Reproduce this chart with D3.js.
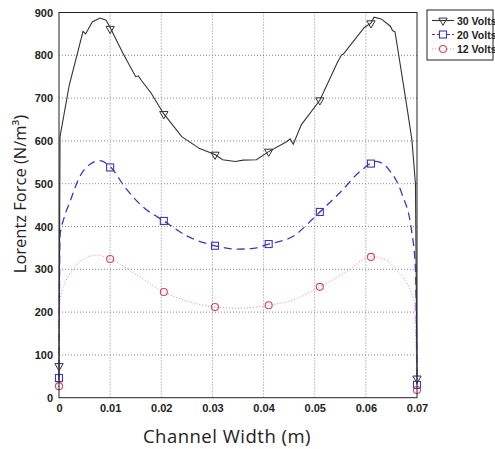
<!DOCTYPE html>
<html>
<head>
<meta charset="utf-8">
<script src="https://cdn.jsdelivr.net/npm/d3@7"></script>
<style>
  body { margin: 0; background: #fff; }
  svg { display: block; }
  .tk text { font-family: "Liberation Sans", Arial, sans-serif; font-weight: bold; font-size: 11px; fill: #222; }
</style>
</head>
<body>
<div id="chartHolder"></div>
<script>
// tick values
const yTicks = [0, 100, 200, 300, 400, 500, 600, 700, 800, 900];
const xTicks = [0, 0.01, 0.02, 0.03, 0.04, 0.05, 0.06, 0.07];

// 30 Volts
const x30 = [0, 0.0002, 0.002, 0.0047, 0.0052, 0.0065, 0.008, 0.0092, 0.01, 0.0125, 0.0150, 0.0155, 0.0162, 0.018, 0.0205, 0.024, 0.0275, 0.0305, 0.032, 0.0345, 0.036, 0.0386, 0.041, 0.0445, 0.0452, 0.0458, 0.0474, 0.051, 0.0545, 0.0552, 0.0556, 0.0597, 0.061, 0.0616, 0.063, 0.0648, 0.0652, 0.0657, 0.0678, 0.069, 0.0697, 0.07];
const v30 = [45, 610, 730, 856, 850, 878, 887, 882, 865, 805, 750, 752, 740, 712, 663, 610, 582, 568, 556, 552, 555, 556, 575, 598, 605, 592, 638, 695, 785, 800, 803, 865, 875, 889, 885, 868, 858, 855, 697, 603, 500, 40];
const m30x = [0, 0.01, 0.0205, 0.0305, 0.041, 0.051, 0.061, 0.07];
const m30v = [74, 862, 663, 568, 575, 695, 875, 45];

// 20 Volts
const x20 = [0, 0.0002, 0.001, 0.0023, 0.004, 0.006, 0.008, 0.01, 0.013, 0.0165, 0.0205, 0.025, 0.0305, 0.035, 0.038, 0.041, 0.0456, 0.051, 0.055, 0.059, 0.062, 0.0645, 0.067, 0.069, 0.0697, 0.07];
const v20 = [40, 380, 420, 463, 515, 545, 554, 540, 490, 445, 413, 378, 355, 347, 349, 359, 376, 434, 480, 530, 552, 533, 478, 385, 300, 30];
const m20x = [0, 0.01, 0.0205, 0.0305, 0.041, 0.051, 0.061, 0.07];
const m20v = [46, 538, 413, 355, 359, 434, 547, 30];

// 12 Volts
const x12 = [0, 0.0002, 0.0027, 0.005, 0.0074, 0.01, 0.0152, 0.0205, 0.0255, 0.0305, 0.0353, 0.041, 0.0456, 0.051, 0.056, 0.061, 0.0639, 0.0659, 0.0694, 0.07];
const v12 = [25, 230, 299, 325, 333, 324, 287, 247, 224, 212, 209, 216, 228, 259, 293, 329, 322, 299, 228, 20];
const m12x = [0, 0.01, 0.0205, 0.0305, 0.041, 0.051, 0.061, 0.07];
const m12v = [27, 324, 247, 212, 216, 259, 329, 18];

const seriesNames = ["30 Volts", "20 Volts", "12 Volts"];

const width = 495, height = 449;
const pLeft = 59, pRight = 417, pTop = 12.5, pBottom = 397.7;

const svg = d3.select("#chartHolder").append("svg")
  .attr("width", width).attr("height", height);

const xScale = d3.scaleLinear().domain([0, 0.07]).range([pLeft, pRight]);
const yScale = d3.scaleLinear().domain([0, 900]).range([pBottom, pTop]);

// grid
svg.append("g").selectAll("line").data(xTicks.slice(1, -1)).enter().append("line")
  .attr("x1", d => xScale(d)).attr("x2", d => xScale(d))
  .attr("y1", pTop).attr("y2", pBottom)
  .attr("stroke", "#888").attr("stroke-width", 1).attr("stroke-dasharray", "1,2");
svg.append("g").selectAll("line").data(yTicks.slice(1, -1)).enter().append("line")
  .attr("x1", pLeft).attr("x2", pRight)
  .attr("y1", d => yScale(d)).attr("y2", d => yScale(d))
  .attr("stroke", "#888").attr("stroke-width", 1).attr("stroke-dasharray", "1,2");

// axes
const xAxis = d3.axisBottom(xScale).tickValues(xTicks).tickSize(0).tickPadding(7)
  .tickFormat(d => d === 0 ? "0" : d3.format(".2f")(d));
svg.append("g").attr("class", "tk").attr("transform", `translate(0,${pBottom})`).call(xAxis)
  .call(g => g.select(".domain").remove());
const yAxis = d3.axisLeft(yScale).tickValues(yTicks).tickSize(0).tickPadding(6);
svg.append("g").attr("class", "tk").attr("transform", `translate(${pLeft},0)`).call(yAxis)
  .call(g => g.select(".domain").remove());

// lines
const line30 = d3.line().x((d, i) => xScale(x30[i])).y(d => yScale(d));
svg.append("path").datum(v30).attr("d", line30)
  .attr("fill", "none").attr("stroke", "#333").attr("stroke-width", 1.1);

const line20 = d3.line().x((d, i) => xScale(x20[i])).y(d => yScale(d)).curve(d3.curveMonotoneX);
svg.append("path").datum(v20).attr("d", line20)
  .attr("fill", "none").attr("stroke", "#3a3ab8").attr("stroke-width", 1.3).attr("stroke-dasharray", "8,5");

const line12 = d3.line().x((d, i) => xScale(x12[i])).y(d => yScale(d)).curve(d3.curveMonotoneX);
svg.append("path").datum(v12).attr("d", line12)
  .attr("fill", "none").attr("stroke", "#e08aa0").attr("stroke-width", 1).attr("stroke-dasharray", "1,2");

// markers
const tri = d3.symbol().type(d3.symbolTriangle).size(30);
svg.append("g").selectAll("path").data(m30v).enter().append("path")
  .attr("d", tri)
  .attr("transform", (d, i) => `translate(${xScale(m30x[i])},${yScale(d)}) rotate(180)`)
  .attr("fill", "none").attr("stroke", "#333").attr("stroke-width", 1);
svg.append("g").selectAll("rect").data(m20v).enter().append("rect")
  .attr("x", (d, i) => xScale(m20x[i]) - 3.5).attr("y", d => yScale(d) - 3.5)
  .attr("width", 7).attr("height", 7)
  .attr("fill", "none").attr("stroke", "#3a3ab8").attr("stroke-width", 1.1);
svg.append("g").selectAll("circle").data(m12v).enter().append("circle")
  .attr("cx", (d, i) => xScale(m12x[i])).attr("cy", d => yScale(d)).attr("r", 3.5)
  .attr("fill", "none").attr("stroke", "#d04868").attr("stroke-width", 1.1);

// frame
svg.append("rect").attr("x", pLeft).attr("y", pTop)
  .attr("width", pRight - pLeft).attr("height", pBottom - pTop)
  .attr("fill", "none").attr("stroke", "#222").attr("stroke-width", 1);

// axis titles
svg.append("text")
  .attr("x", 227).attr("y", 443)
  .attr("text-anchor", "middle")
  .style("font-family", "'Open Sans', sans-serif").style("font-size", "18.5px")
  .style("letter-spacing", "0.5px").style("fill", "#222")
  .text("Channel Width (m)");
svg.append("text")
  .attr("transform", "translate(26,194) rotate(-90)")
  .attr("text-anchor", "middle")
  .style("font-family", "'Open Sans', sans-serif").style("font-size", "16.5px").style("fill", "#222")
  .text("Lorentz Force (N/m³)");

// legend
const lg = svg.append("g");
lg.append("rect").attr("x", 427).attr("y", 10).attr("width", 66).attr("height", 50)
  .attr("fill", "#fff").attr("stroke", "#222").attr("stroke-width", 1);
const rows = [20.5, 34.5, 49];
const styles = [
  { c: "#333", dash: null },
  { c: "#3a3ab8", dash: "3,2" },
  { c: "#e08aa0", dash: "1,2" }
];
seriesNames.forEach((name, i) => {
  lg.append("line").attr("x1", 432).attr("x2", 454).attr("y1", rows[i]).attr("y2", rows[i])
    .attr("stroke", styles[i].c).attr("stroke-width", 1.1).attr("stroke-dasharray", styles[i].dash);
  lg.append("text").attr("x", 457).attr("y", rows[i] + 4)
    .style("font-family", "'Liberation Sans', Arial, sans-serif").style("font-weight", "bold")
    .style("font-size", "10.5px").style("fill", "#222").text(name);
});
lg.append("path").attr("d", tri).attr("transform", `translate(443,${rows[0]}) rotate(180)`)
  .attr("fill", "none").attr("stroke", "#333");
lg.append("rect").attr("x", 439.5).attr("y", rows[1] - 3.5).attr("width", 7).attr("height", 7)
  .attr("fill", "#fff").attr("stroke", "#3a3ab8").attr("stroke-width", 1.1);
lg.append("circle").attr("cx", 443).attr("cy", rows[2]).attr("r", 3.5)
  .attr("fill", "#fff").attr("stroke", "#d04868").attr("stroke-width", 1.1);
</script>
</body>
</html>
